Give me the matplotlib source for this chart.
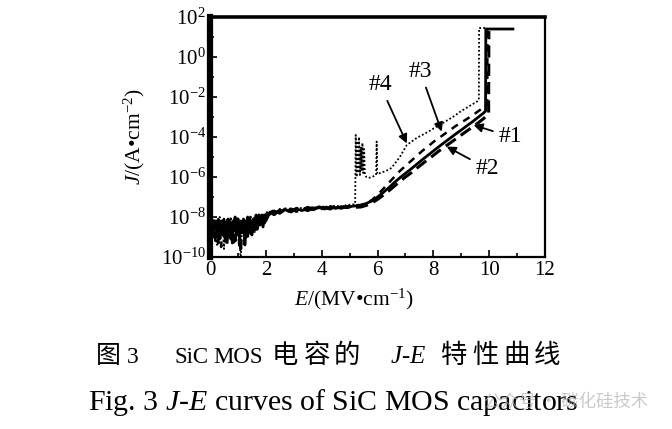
import numpy as np
import matplotlib
matplotlib.use("Agg")
import matplotlib.pyplot as plt
from matplotlib.ticker import FixedLocator, LogFormatterSciNotation, NullFormatter

plt.rcParams['font.family'] = ['Liberation Serif', 'Noto Sans CJK SC', 'DejaVu Sans']
plt.rcParams['mathtext.fontset'] = 'custom'
plt.rcParams['mathtext.rm'] = 'Liberation Serif'
plt.rcParams['mathtext.it'] = 'Liberation Serif:italic'
plt.rcParams['mathtext.bf'] = 'Liberation Serif:bold'

# ---------------- data (E in MV/cm, log10 J in A/cm^2) ----------------
E_low = [0.10, 0.15, 0.20, 0.25, 0.30, 0.35, 0.40, 0.45, 0.50, 0.55, 0.60, 0.65, 0.70,
         0.75, 0.80, 0.85, 0.90, 0.95, 1.00, 1.05, 1.10, 1.15, 1.20, 1.25, 1.30, 1.35,
         1.40, 1.45, 1.50, 1.55, 1.60, 1.65, 1.70, 1.75, 1.80, 1.85, 1.90, 1.95, 2.00]
E_mid = [2.1, 2.3, 2.5, 2.7, 2.9, 3.1, 3.3, 3.5, 3.7, 3.9, 4.1, 4.3, 4.5, 4.7, 4.9, 5.1]
E_high = [5.4, 5.6, 5.8, 6.0, 6.2, 6.4, 6.6, 6.8, 7.0, 7.2, 7.4, 7.6, 7.8, 8.0, 8.2,
          8.4, 8.6, 8.8, 9.0, 9.2, 9.4, 9.6, 9.8]

# curve #1 (solid)
logJ1_low = [-8.3, -8.6, -8.2, -8.9, -8.4, -9.1, -8.3, -8.7, -8.2, -9.2, -8.5, -8.1, -8.8,
             -8.3, -9.3, -8.4, -8.0, -8.9, -8.3, -9.0, -8.2, -8.6, -8.1, -9.4, -8.3, -8.0,
             -8.7, -8.2, -8.9, -8.1, -8.4, -7.9, -8.6, -8.0, -8.3, -7.9, -8.5, -7.9, -8.2]
logJ1_mid = [-7.9, -7.7, -7.82, -7.62, -7.75, -7.6, -7.68, -7.55, -7.64, -7.52, -7.6, -7.5,
             -7.57, -7.48, -7.54, -7.46]
logJ1_high = [-7.42, -7.32, -7.2, -7.0, -6.78, -6.54, -6.28, -6.04, -5.82, -5.6, -5.37,
              -5.14, -4.92, -4.7, -4.48, -4.27, -4.06, -3.85, -3.65, -3.44, -3.24, -3.02, -2.8]
E1_bd = [9.87, 9.88, 10.85]
logJ1_bd = [-2.7, 1.4, 1.4]

# curve #2 (dashed, lower)
logJ2_low = [-8.5, -9.0, -8.4, -8.2, -9.3, -8.6, -8.1, -9.0, -8.5, -8.3, -9.4, -8.6, -8.2,
             -9.1, -8.4, -8.2, -9.2, -8.5, -8.1, -8.8, -9.6, -8.4, -8.2, -8.7, -9.0, -8.3,
             -8.1, -8.8, -8.2, -8.5, -8.0, -8.7, -8.2, -7.9, -8.4, -8.1, -7.9, -8.3, -7.9]
logJ2_mid = [-7.75, -7.88, -7.65, -7.8, -7.6, -7.72, -7.58, -7.68, -7.55, -7.63, -7.52, -7.6,
             -7.5, -7.56, -7.48, -7.52]
logJ2_high = [-7.5, -7.42, -7.3, -7.12, -6.92, -6.7, -6.46, -6.22, -6.0, -5.8, -5.57, -5.35,
              -5.13, -4.92, -4.7, -4.5, -4.3, -4.1, -3.9, -3.7, -3.5, -3.3, -3.08]
E2_bd = [9.98, 9.99]
logJ2_bd = [-2.85, 1.3]

# curve #3 (dashed, upper)
logJ3_low = [-8.2, -8.8, -9.2, -8.4, -8.1, -8.7, -9.5, -8.3, -8.1, -8.6, -8.9, -8.2, -9.0,
             -8.5, -8.1, -8.7, -9.1, -8.3, -8.2, -9.5, -8.4, -8.1, -8.9, -8.3, -8.5, -9.1,
             -8.2, -8.0, -8.6, -8.3, -8.9, -8.1, -8.0, -8.5, -8.1, -8.3, -7.9, -8.1, -7.9]
logJ3_mid = [-7.8, -7.66, -7.76, -7.58, -7.7, -7.55, -7.64, -7.5, -7.6, -7.48, -7.56, -7.46,
             -7.53, -7.44, -7.5, -7.42]
logJ3_high = [-7.4, -7.3, -7.15, -6.9, -6.6, -6.3, -6.0, -5.7, -5.45, -5.2, -4.95, -4.7,
              -4.48, -4.25, -4.05, -3.85, -3.65, -3.45, -3.28, -3.1, -2.92, -2.72, -2.52]
E3_bd = [9.93, 9.94]
logJ3_bd = [-2.4, 1.4]

# curve #4 (dotted)
logJ4_low = [-8.4, -8.1, -8.7, -9.4, -8.3, -8.0, -8.8, -8.2, -9.6, -8.4, -8.1, -8.9, -8.3,
             -8.0, -8.6, -9.3, -8.2, -8.5, -8.1, -8.8, -10.2, -8.3, -8.6, -8.1, -8.9, -8.2,
             -8.4, -8.0, -8.7, -8.2, -8.0, -8.5, -8.1, -7.9, -8.3, -8.0, -7.9, -8.2, -7.8]
logJ4_mid = [-7.7, -7.85, -7.6, -7.74, -7.56, -7.66, -7.52, -7.62, -7.48, -7.57, -7.45, -7.53,
             -7.42, -7.5, -7.4, -7.38]
E4_high = [5.2, 5.22, 5.25, 5.28, 5.31, 5.34, 5.37, 5.40, 5.43, 5.46, 5.49, 5.52, 5.55, 5.6,
           5.67, 5.8, 5.95, 5.97, 5.99, 6.1, 6.3, 6.5, 6.8, 7.05, 7.4, 7.8, 8.12, 8.4, 8.72,
           9.0, 9.3, 9.56, 9.63, 9.64, 9.9]
logJ4_high = [-7.35, -3.9, -6.0, -4.2, -5.8, -4.0, -5.9, -4.5, -5.7, -4.3, -5.8, -4.6, -5.9,
              -6.0, -6.05, -6.0, -5.9, -4.23, -5.85, -5.8, -5.7, -5.55, -5.0, -4.4, -4.05,
              -3.75, -3.48, -3.25, -2.98, -2.7, -2.45, -2.23, -2.15, 1.45, 1.45]

labels = ['#1', '#2', '#3', '#4']
label_text = [(10.75, -3.98), (9.92, -5.57), (7.53, -0.73), (6.09, -1.40)]
label_head = [(9.44, -3.40), (8.48, -4.48), (8.30, -3.73), (7.05, -4.32)]

xticks = [0, 2, 4, 6, 8, 10, 12]
ytick_exp = [-10, -8, -6, -4, -2, 0, 2]

# ---------------- figure ----------------
W, H = 672, 429
fig = plt.figure(figsize=(W / 100, H / 100), dpi=100)
ax = fig.add_axes([210 / W, 1 - 257 / H, (545 - 210) / W, (257 - 17) / H])

def pw(v):
    return [10.0 ** x for x in v]

E1 = E_low + E_mid + E_high + E1_bd
J1 = logJ1_low + logJ1_mid + logJ1_high + logJ1_bd
E2 = E_low + E_mid + E_high + E2_bd
J2 = logJ2_low + logJ2_mid + logJ2_high + logJ2_bd
E3 = E_low + E_mid + E_high + E3_bd
J3 = logJ3_low + logJ3_mid + logJ3_high + logJ3_bd
E4 = E_low + E_mid + E4_high
J4 = logJ4_low + logJ4_mid + logJ4_high

ax.plot(E4, pw(J4), color='black', lw=1.3, linestyle=(0, (1, 1.2)))
ax.plot(E3, pw(J3), color='black', lw=1.8, linestyle=(0, (3, 2.5)))
ax.plot(E2, pw(J2), color='black', lw=2.2, linestyle=(0, (4, 2)))
ax.plot(E1, pw(J1), color='black', lw=2.0, linestyle='-')

ax.set_yscale('log')
ax.set_xlim(0, 12)
ax.set_ylim(1e-10, 1e2)

ax.xaxis.set_major_locator(FixedLocator(xticks))
ax.xaxis.set_minor_locator(FixedLocator([1, 3, 5, 7, 9, 11]))
ax.yaxis.set_major_locator(FixedLocator([10.0 ** e for e in ytick_exp]))
ax.yaxis.set_minor_locator(FixedLocator([10.0 ** e for e in [-9, -7, -5, -3, -1, 1]]))
ax.yaxis.set_major_formatter(LogFormatterSciNotation())
ax.yaxis.set_minor_formatter(NullFormatter())

ax.tick_params(which='both', direction='in', top=False, right=False, width=1.2,
               labelsize=15, colors='black')
ax.tick_params(which='major', length=5, pad=3)
ax.tick_params(which='minor', length=3)

ax.spines['left'].set_linewidth(4.5)
ax.spines['top'].set_linewidth(2.6)
ax.spines['right'].set_linewidth(1.6)
ax.spines['bottom'].set_linewidth(1.6)

for lab, (tx, ty), (hx, hy) in zip(labels, label_text, label_head):
    ax.annotate(lab, xy=(hx, 10.0 ** hy), xytext=(tx, 10.0 ** ty),
                ha='center', va='center', fontsize=17,
                arrowprops=dict(arrowstyle='-|>', color='black', lw=1.3,
                                mutation_scale=13, shrinkA=2, shrinkB=0))

fig.text(134 / W, 1 - 137 / H, r'$J$/(A•cm$^{-2}$)', rotation=90, ha='center',
         va='center', fontsize=15.5)
fig.text(354 / W, 1 - 299 / H, r'$E$/(MV•cm$^{-1}$)', ha='center', va='center',
         fontsize=15.5)

# captions
CJK = ['Noto Sans CJK SC']
base1 = 1 - 363 / H
fig.text(96 / W, base1, '图', fontsize=18, va='baseline', ha='left', family=CJK)
fig.text(127 / W, base1, '3', fontsize=17, va='baseline', ha='left')
fig.text(175 / W, base1, 'SiC', fontsize=16.5, va='baseline', ha='left')
fig.text(213 / W, base1, 'MOS', fontsize=16.5, va='baseline', ha='left')
for ch, x in [('电', 272), ('容', 303), ('的', 334)]:
    fig.text(x / W, base1, ch, fontsize=19, va='baseline', ha='left', family=CJK)
fig.text(390 / W, base1, r'$J$-$E$', fontsize=18, va='baseline', ha='left')
for ch, x in [('特', 441), ('性', 472), ('曲', 503), ('线', 534)]:
    fig.text(x / W, base1, ch, fontsize=19, va='baseline', ha='left', family=CJK)

base2 = 1 - 410 / H
fig.text(333 / W, base2, r'Fig. 3 $J$-$E$ curves of SiC MOS capacitors', fontsize=21.5,
         va='baseline', ha='center')

fig.text(484 / W, 1 - 401 / H, '公众号 · 碳化硅技术', fontsize=12.5, color='#b4b4b4',
         alpha=0.7, va='center', ha='left', family=['Noto Sans CJK SC', 'DejaVu Sans'])

fig.savefig('out.png', dpi=100)
